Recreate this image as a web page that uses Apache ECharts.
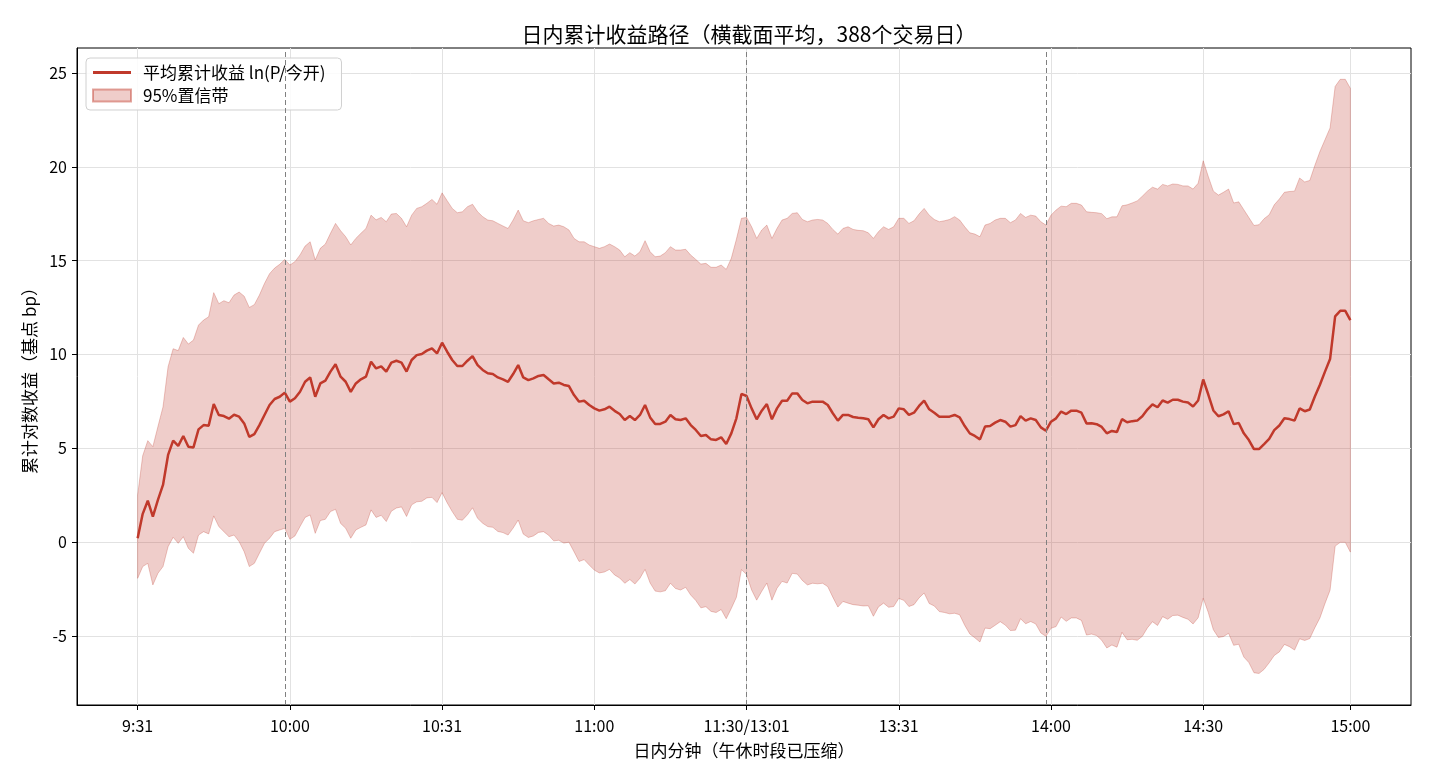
<!DOCTYPE html>
<html>
<head>
<meta charset="utf-8">
<script src="https://cdn.jsdelivr.net/npm/echarts@6/dist/echarts.min.js"></script>
<style>
  html, body { margin: 0; padding: 0; background: #fff; }
  #chart { width: 1430px; height: 780px; }
</style>
</head>
<body>
<div id="chart"></div>
<script>
// minute index 0 = 9:31 ... 119 = 11:30, 120 = 13:01 ... 239 = 15:00
const meanBp = [
  0.20, 1.50, 2.20, 1.35, 2.24, 3.04, 4.64, 5.40, 5.12, 5.65,
  5.08, 5.04, 6.00, 6.23, 6.20, 7.35, 6.77, 6.71, 6.57, 6.78,
  6.68, 6.32, 5.60, 5.75, 6.23, 6.77, 7.30, 7.62, 7.74, 7.96,
  7.48, 7.66, 8.01, 8.54, 8.77, 7.74, 8.45, 8.60, 9.08, 9.47,
  8.81, 8.54, 8.00, 8.45, 8.67, 8.81, 9.61, 9.25, 9.36, 9.08,
  9.56, 9.66, 9.56, 9.08, 9.70, 9.96, 10.02, 10.20, 10.32, 10.05,
  10.62, 10.14, 9.70, 9.38, 9.38, 9.66, 9.91, 9.43, 9.17, 8.99,
  8.95, 8.77, 8.67, 8.54, 8.95, 9.43, 8.77, 8.63, 8.72, 8.85,
  8.90, 8.67, 8.45, 8.49, 8.37, 8.31, 7.83, 7.48, 7.53, 7.30,
  7.12, 7.00, 7.07, 7.21, 6.99, 6.82, 6.50, 6.71, 6.50, 6.77,
  7.30, 6.64, 6.29, 6.29, 6.41, 6.77, 6.54, 6.50, 6.59, 6.23,
  5.97, 5.65, 5.70, 5.47, 5.44, 5.58, 5.22, 5.79, 6.59, 7.89,
  7.78, 7.12, 6.54, 7.00, 7.35, 6.54, 7.12, 7.53, 7.53, 7.92,
  7.92, 7.57, 7.39, 7.48, 7.48, 7.48, 7.30, 6.86, 6.47, 6.77,
  6.77, 6.66, 6.62, 6.59, 6.54, 6.11, 6.54, 6.77, 6.59, 6.68,
  7.12, 7.07, 6.77, 6.89, 7.25, 7.53, 7.07, 6.89, 6.68, 6.68,
  6.68, 6.77, 6.64, 6.18, 5.79, 5.65, 5.47, 6.15, 6.18, 6.36,
  6.50, 6.41, 6.15, 6.23, 6.71, 6.47, 6.59, 6.50, 6.11, 5.93,
  6.41, 6.59, 6.95, 6.82, 7.00, 7.00, 6.89, 6.32, 6.33, 6.28,
  6.13, 5.79, 5.92, 5.86, 6.55, 6.38, 6.44, 6.47, 6.70, 7.06,
  7.33, 7.18, 7.54, 7.43, 7.58, 7.58, 7.48, 7.43, 7.22, 7.54,
  8.66, 7.86, 7.01, 6.70, 6.80, 6.97, 6.28, 6.34, 5.79, 5.43,
  4.95, 4.95, 5.22, 5.50, 5.96, 6.21, 6.59, 6.55, 6.47, 7.12,
  6.97, 7.06, 7.75, 8.38, 9.08, 9.75, 12.03, 12.32, 12.32, 11.82
];

const upperBp = [
  2.50, 4.60, 5.40, 5.08, 6.15, 7.20, 9.34, 10.30, 10.20, 10.90,
  10.55, 10.76, 11.56, 11.83, 12.00, 13.29, 12.70, 12.86, 12.75, 13.16,
  13.32, 13.10, 12.50, 12.65, 13.16, 13.78, 14.30, 14.60, 14.80, 15.06,
  14.76, 14.94, 15.30, 15.77, 16.00, 15.03, 15.65, 15.88, 16.45, 16.98,
  16.59, 16.27, 15.83, 16.18, 16.45, 16.71, 17.42, 17.17, 17.30, 17.07,
  17.48, 17.51, 17.25, 16.80, 17.42, 17.78, 17.87, 18.05, 18.26, 18.00,
  18.61, 18.19, 17.78, 17.55, 17.60, 17.87, 18.00, 17.60, 17.34, 17.16,
  17.12, 16.98, 16.84, 16.71, 17.16, 17.69, 17.12, 17.02, 17.12, 17.19,
  17.25, 16.98, 16.84, 16.89, 16.80, 16.63, 16.18, 16.00, 16.00, 15.83,
  15.74, 15.65, 15.74, 15.88, 15.74, 15.56, 15.20, 15.42, 15.24, 15.47,
  16.06, 15.47, 15.20, 15.24, 15.42, 15.74, 15.56, 15.56, 15.60, 15.29,
  15.06, 14.81, 14.85, 14.64, 14.64, 14.76, 14.53, 15.12, 16.13, 17.25,
  17.30, 16.80, 16.18, 16.63, 16.89, 16.18, 16.71, 17.16, 17.25, 17.51,
  17.55, 17.19, 17.07, 17.16, 17.19, 17.16, 16.98, 16.66, 16.41, 16.71,
  16.80, 16.66, 16.61, 16.59, 16.48, 16.18, 16.54, 16.80, 16.66, 16.80,
  17.25, 17.25, 16.98, 17.12, 17.48, 17.78, 17.42, 17.19, 17.07, 17.12,
  17.19, 17.34, 17.16, 16.80, 16.48, 16.41, 16.27, 16.89, 16.98, 17.16,
  17.25, 17.25, 17.02, 17.16, 17.51, 17.30, 17.42, 17.37, 17.07, 16.89,
  17.42, 17.69, 17.90, 17.87, 18.05, 18.05, 17.96, 17.60, 17.57, 17.55,
  17.50, 17.23, 17.33, 17.33, 17.92, 17.97, 18.07, 18.18, 18.43, 18.70,
  18.91, 18.81, 19.06, 18.98, 19.08, 19.06, 18.98, 18.98, 18.81, 19.12,
  20.32, 19.48, 18.70, 18.49, 18.64, 18.81, 18.07, 18.13, 17.71, 17.29,
  16.87, 16.91, 17.23, 17.44, 17.97, 18.28, 18.64, 18.68, 18.70, 19.40,
  19.19, 19.27, 20.07, 20.81, 21.44, 22.07, 24.28, 24.66, 24.66, 24.18
];

const lowerBp = [
  -1.94, -1.31, -1.14, -2.29, -1.67, -1.31, -0.25, 0.25, -0.07, 0.28,
  -0.34, -0.60, 0.37, 0.55, 0.43, 1.39, 0.82, 0.55, 0.28, 0.37,
  0.02, -0.52, -1.31, -1.14, -0.60, -0.07, 0.20, 0.55, 0.64, 0.73,
  0.14, 0.32, 0.82, 1.31, 1.44, 0.46, 1.14, 1.21, 1.62, 1.74,
  0.99, 0.73, 0.20, 0.64, 0.78, 0.91, 1.71, 1.31, 1.42, 1.09,
  1.64, 1.81, 1.87, 1.36, 1.98, 2.14, 2.17, 2.35, 2.38, 2.10,
  2.63, 2.09, 1.62, 1.21, 1.16, 1.45, 1.82, 1.26, 1.00, 0.82,
  0.78, 0.56, 0.50, 0.37, 0.74, 1.17, 0.42, 0.24, 0.32, 0.51,
  0.55, 0.36, 0.06, 0.09, -0.06, -0.01, -0.52, -1.04, -0.94, -1.23,
  -1.50, -1.65, -1.60, -1.46, -1.76, -1.92, -2.20, -2.00, -2.24, -1.93,
  -1.46, -2.19, -2.62, -2.66, -2.60, -2.20, -2.48, -2.56, -2.42, -2.83,
  -3.12, -3.51, -3.45, -3.70, -3.76, -3.60, -4.09, -3.54, -2.95, -1.47,
  -1.74, -2.56, -3.10, -2.63, -2.19, -3.10, -2.47, -2.10, -2.19, -1.67,
  -1.71, -2.05, -2.29, -2.20, -2.23, -2.20, -2.38, -2.94, -3.47, -3.17,
  -3.26, -3.34, -3.37, -3.41, -3.40, -3.96, -3.46, -3.26, -3.48, -3.44,
  -3.01, -3.11, -3.44, -3.34, -2.98, -2.72, -3.28, -3.41, -3.71, -3.76,
  -3.83, -3.80, -3.88, -4.44, -4.90, -5.11, -5.33, -4.59, -4.62, -4.44,
  -4.25, -4.43, -4.72, -4.70, -4.09, -4.36, -4.24, -4.37, -4.85, -5.03,
  -4.60, -4.51, -4.00, -4.23, -4.05, -4.05, -4.18, -4.96, -4.91, -4.99,
  -5.24, -5.65, -5.49, -5.61, -4.82, -5.21, -5.19, -5.24, -5.03, -4.58,
  -4.25, -4.45, -3.98, -4.12, -3.92, -3.90, -4.02, -4.12, -4.37, -4.04,
  -3.00, -3.76, -4.68, -5.09, -5.04, -4.87, -5.51, -5.45, -6.13, -6.43,
  -6.97, -7.01, -6.79, -6.44, -6.05, -5.86, -5.46, -5.58, -5.76, -5.16,
  -5.25, -5.15, -4.57, -4.05, -3.28, -2.57, -0.22, -0.02, -0.02, -0.54
];

const tickIdx = [0, 30, 60, 90, 120, 150, 180, 210, 239];
const tickLabels = ["9:31", "10:00", "10:31", "11:00", "11:30/13:01", "13:31", "14:00", "14:30", "15:00"];
const yTicks = [-5, 0, 5, 10, 15, 20, 25];
// 10:00, 午休, 14:00
const markIdx = [29, 120, 179];

const RED = "#c0392b";
const BAND_FILL = "rgba(192,57,43,0.25)";
const BAND_EDGE = "rgba(192,57,43,0.28)";
const FONT = "Noto Sans CJK SC";

const chart = echarts.init(document.getElementById("chart"));

const bandRows = upperBp.map((u, i) => [i, lowerBp[i], u]);
const meanData = meanBp.map((v, i) => [i, v]);

// 置信带：整条带画成一个多边形
const renderBand = (params, api) => {
  if (params.dataIndex !== 0) return null;
  const pts = [];
  for (let i = 0; i < bandRows.length; i++) pts.push(api.coord([bandRows[i][0], bandRows[i][2]]));
  for (let i = bandRows.length - 1; i >= 0; i--) pts.push(api.coord([bandRows[i][0], bandRows[i][1]]));
  return {
    type: "polygon",
    shape: { points: pts },
    style: { fill: BAND_FILL, stroke: BAND_EDGE, lineWidth: 1 }
  };
};

const option = {
  animation: false,
  textStyle: { fontFamily: FONT },
  title: {
    text: "日内累计收益路径（横截面平均，388个交易日）",
    left: 744,
    textAlign: "center",
    top: 19,
    textStyle: { fontSize: 21, fontWeight: "normal", color: "#000", fontFamily: FONT }
  },
  legend: {
    left: 86,
    top: 58,
    orient: "vertical",
    itemWidth: 38,
    itemHeight: 12,
    itemGap: 6,
    padding: [6, 16, 6, 6],
    borderColor: "#d0d0d0",
    borderWidth: 1,
    borderRadius: 4,
    backgroundColor: "rgba(255,255,255,0.85)",
    textStyle: { fontSize: 17, color: "#000", fontFamily: FONT, padding: [0, 0, 0, 7] },
    data: [
      { name: "平均累计收益 ln(P/今开)", icon: "path://M0,0 L38,0 L38,3 L0,3 Z" },
      { name: "95%置信带", icon: "rect" }
    ]
  },
  grid: {
    left: 77, right: 19, top: 48, bottom: 75,
    show: true, borderColor: "#000", borderWidth: 1
  },
  xAxis: {
    type: "value",
    min: -11.95,
    max: 250.95,
    name: "日内分钟（午休时段已压缩）",
    nameLocation: "middle",
    nameGap: 37,
    nameTextStyle: { fontSize: 17, color: "#000", fontFamily: FONT },
    axisLine: { show: true, onZero: false, lineStyle: { color: "#000" } },
    axisTick: { show: true, length: 5, lineStyle: { color: "#000" }, customValues: tickIdx },
    axisLabel: {
      customValues: tickIdx,
      fontSize: 16,
      color: "#000",
      margin: 13,
      formatter: (v) => {
        const k = tickIdx.indexOf(Math.round(v));
        return k >= 0 ? tickLabels[k] : "";
      }
    },
    splitLine: { show: true, lineStyle: { color: "#e2e2e2", width: 1 } }
  },
  yAxis: {
    type: "value",
    min: -8.69,
    max: 26.33,
    name: "累计对数收益（基点 bp）",
    nameLocation: "middle",
    nameGap: 37,
    nameTextStyle: { fontSize: 17, color: "#000", fontFamily: FONT },
    axisLine: { show: true, onZero: false, lineStyle: { color: "#000" } },
    axisTick: { show: true, length: 5, lineStyle: { color: "#000" }, customValues: yTicks },
    axisLabel: { customValues: yTicks, fontSize: 16, color: "#000", margin: 10 },
    splitLine: { show: true, lineStyle: { color: "#e2e2e2", width: 1 } }
  },
  series: [
    {
      name: "95%置信带",
      type: "custom",
      renderItem: renderBand,
      data: bandRows,
      encode: { x: 0, y: [1, 2] },
      itemStyle: { color: BAND_FILL, borderColor: "rgba(192,57,43,0.45)", borderWidth: 1 },
      z: 1
    },
    {
      name: "平均累计收益 ln(P/今开)",
      type: "line",
      data: meanData,
      symbol: "none",
      itemStyle: { color: RED },
      lineStyle: { color: RED, width: 2.5 },
      z: 3,
      markLine: {
        silent: true,
        symbol: "none",
        label: { show: false },
        lineStyle: { color: "#808080", type: [5, 3], width: 1 },
        data: markIdx.map((i) => ({ xAxis: i }))
      }
    }
  ]
};

chart.setOption(option);
</script>
</body>
</html>
